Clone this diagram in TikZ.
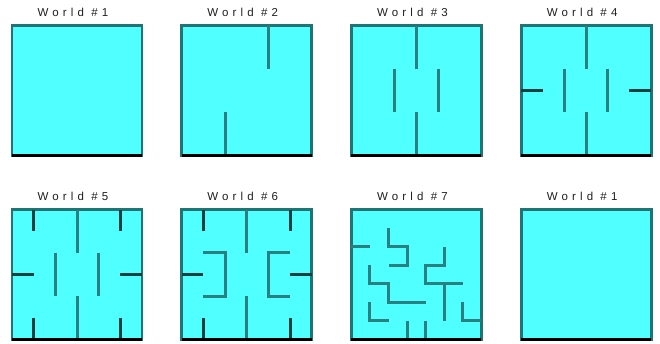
\documentclass[tikz,border=0pt]{standalone}
\usepackage{fontspec}
\setmainfont{Liberation Sans}
\usetikzlibrary{positioning,calc}
\definecolor{agua}{RGB}{80,255,255}
\definecolor{borde}{RGB}{34,116,116}
\definecolor{murocol}{RGB}{40,128,128}
\definecolor{murooscuro}{RGB}{20,64,64}
\definecolor{gristexto}{RGB}{30,30,30}

\begin{document}
\begin{tikzpicture}[x=1pt, y=-1pt,
  mundo/.style={draw=borde, fill=agua, line width=2.8pt, minimum size=130pt,
                inner sep=0pt, outer sep=0pt},
  titulo/.style={font=\fontsize{11.5}{13}\selectfont\addfontfeature{LetterSpace=36},
                 text=gristexto, inner sep=0pt},
  muro/.style={draw=murocol, line width=3pt},
  muroosc/.style={muro, draw=murooscuro},
  base/.style={draw=black, line width=3pt},
  celda/.style={shift={(#1.north west)}, x=21.667pt, y=-21.667pt},
  celdafina/.style={shift={(#1.north west)}, x=18.571pt, y=-18.571pt}]
  \useasboundingbox (0,0) rectangle (660,343);
  % los ocho mundos
  \node[mundo] at (77,90.5) (m1) {};
  \node[mundo, right=39.7pt of m1] (m2) {};
  \node[mundo, right=39.7pt of m2] (m3) {};
  \node[mundo, right=39.7pt of m3] (m4) {};
  \node[mundo, below=54pt of m1] (m5) {};
  \node[mundo, right=39.7pt of m5] (m6) {};
  \node[mundo, right=39.7pt of m6] (m7) {};
  \node[mundo, right=39.7pt of m7] (m8) {};
  \foreach \m/\n in {m1/1, m2/2, m3/3, m4/4, m5/5, m6/6, m7/7, m8/1}
    \node[titulo, above=9pt of \m, xshift=-4pt] (t\m) {World \#\n};
  % muros
  \draw[muro, celda=m2] (4,0) -- (4,2) (2,4) -- (2,6);
  \foreach \m in {m3, m4, m5}
    \draw[muro, celda=\m] (3,0) -- (3,2) (2,2) -- (2,4) (4,2) -- (4,4) (3,4) -- (3,6);
  \draw[muro, celda=m6] (3,0) -- (3,2) (3,4) -- (3,6)
    (1,2) -- (2,2) -- (2,4) -- (1,4) (5,2) -- (4,2) -- (4,4) -- (5,4);
  \foreach \m in {m4, m5, m6}
    \draw[muroosc, celda=\m] (0,3) -- (1,3) (5,3) -- (6,3);
  \foreach \m in {m5, m6}
    \draw[muroosc, celda=\m] (1,0) -- (1,1) (5,0) -- (5,1) (1,5) -- (1,6) (5,5) -- (5,6);
  \draw[muro, celdafina=m7] (0,2) -- (1,2)
    (2,1) -- (2,2) -- (3,2) -- (3,3) -- (2,3)
    (5,2) -- (5,3) -- (4,3) -- (4,4) -- (6,4)
    (5,4) -- (5,6)
    (1,3) -- (1,4) -- (2,4) -- (2,5) -- (4,5)
    (1,5) -- (1,6) -- (2,6)
    (3,6) -- (3,7) (4,6) -- (4,7)
    (6,5) -- (6,6) -- (7,6);
  % borde inferior
  \foreach \m in {m1, m2, m3, m4, m5, m6, m7, m8}
    \draw[base] (\m.south west) -- (\m.south east);
\end{tikzpicture}
\end{document}
